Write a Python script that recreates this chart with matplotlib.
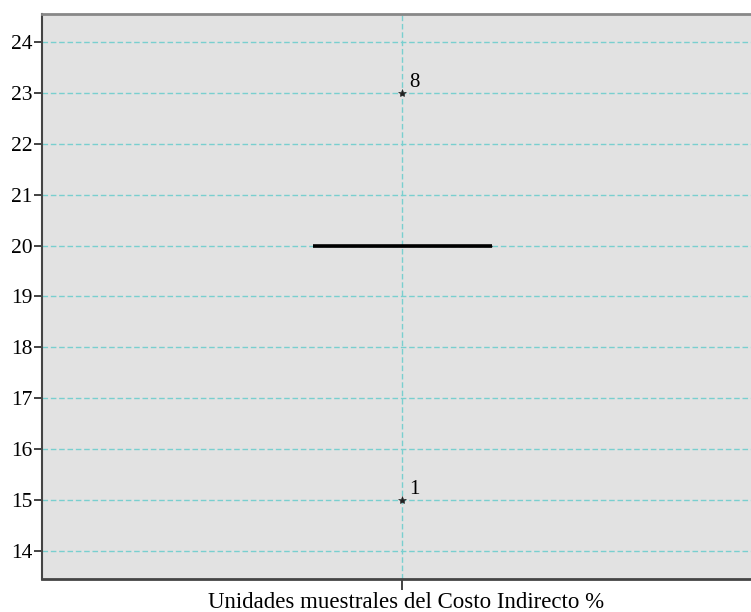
import numpy as np
import matplotlib.pyplot as plt

plt.rcParams['font.family'] = ['Liberation Serif', 'DejaVu Serif']

# datos: costo indirecto % por unidad muestral (caso 1 y 8 son extremos)
casos = [1, 2, 3, 4, 5, 6, 7, 8]
valores = [15, 20, 20, 20, 20, 20, 20, 23]
yticks = [14, 15, 16, 17, 18, 19, 20, 21, 22, 23, 24]
xlabel = "Unidades muestrales del Costo Indirecto %"

fig = plt.figure(figsize=(7.51, 6.12), dpi=100)
ax = fig.add_axes([42 / 751, 1 - 579 / 612, 709 / 751, 565 / 612])
ax.set_facecolor('#e2e2e2')

vals = np.array(valores)
q1, med, q3 = np.percentile(vals, [25, 50, 75])
iqr = q3 - q1
# caja (colapsada) y mediana
ax.add_patch(plt.Rectangle((-0.5, q1), 1.0, q3 - q1, fill=False, edgecolor='black', lw=1, zorder=3))
ax.plot([-0.5, 0.5], [med, med], color='black', lw=2.6, zorder=4, solid_capstyle='butt')

# valores extremos
for c, v in zip(casos, valores):
    if v > q3 + 3 * iqr or v < q1 - 3 * iqr:
        ax.plot(0, v, marker='*', color='#222222', ms=6, mew=0.4, zorder=5)
        ax.annotate(str(c), (0, v), xytext=(5, 1), textcoords='offset points',
                    fontsize=15, ha='left', va='bottom')

ax.set_xlim(-360 / 179, 349 / 179)
ax.set_ylim(13.45, 24.55)
ax.set_yticks(yticks)
ax.set_xticks([0])
ax.set_xlabel(xlabel, fontsize=16.5, va='center')
ax.xaxis.set_label_coords(0.513, -0.041)

ax.grid(True, color='#79cfcf', ls=(0, (4, 2)), lw=1)
ax.set_axisbelow(True)
ax.tick_params(axis='y', length=6, width=1.2, labelsize=15.5, pad=1, color='#222222')
ax.tick_params(axis='x', length=8, width=1.2, color='#222222', labelbottom=False)

ax.spines['top'].set_color('#888888')
ax.spines['top'].set_linewidth(2)
ax.spines['left'].set_color('#444444')
ax.spines['left'].set_linewidth(1.5)
ax.spines['bottom'].set_color('#444444')
ax.spines['bottom'].set_linewidth(2)
ax.spines['right'].set_visible(False)

fig.savefig('out.png', dpi=100)
